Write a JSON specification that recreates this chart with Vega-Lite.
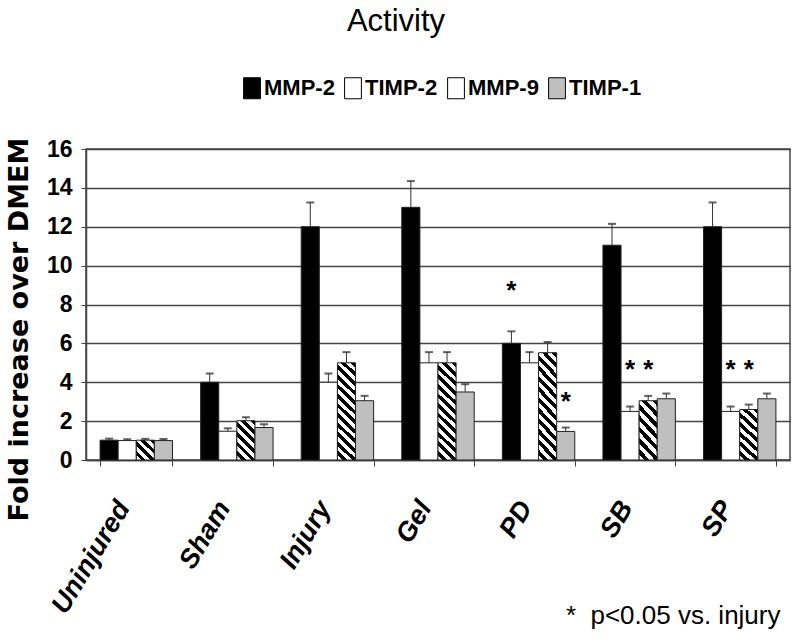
{
  "$schema": "https://vega.github.io/schema/vega-lite/v6.json",
  "width": 704,
  "height": 311,
  "autosize": {"type": "none"},
  "padding": {"left": 86, "top": 149, "right": 10, "bottom": 184},
  "background": "white",
  "title": {"text": "Activity", "font": "Liberation Sans", "fontSize": 31, "fontWeight": "normal", "color": "#000", "anchor": "middle", "offset": 39, "dx": -42},
  "config": {
    "view": {"stroke": "#444", "strokeWidth": 1.5},
    "axis": {"labelColor": "#000", "titleColor": "#000"},
    "axisY": {"tickCount": 10, "labelOverlap": false}
  },
  "datasets": {
    "bars": [
      {"group": "Uninjured", "series": "MMP-2", "value": 1.02, "hi": 1.1},
      {"group": "Uninjured", "series": "TIMP-2", "value": 1.0, "hi": 1.07},
      {"group": "Uninjured", "series": "MMP-9", "value": 1.02, "hi": 1.09},
      {"group": "Uninjured", "series": "TIMP-1", "value": 1.0, "hi": 1.08},
      {"group": "Sham", "series": "MMP-2", "value": 4.0, "hi": 4.45},
      {"group": "Sham", "series": "TIMP-2", "value": 1.48, "hi": 1.63},
      {"group": "Sham", "series": "MMP-9", "value": 2.02, "hi": 2.2},
      {"group": "Sham", "series": "TIMP-1", "value": 1.67, "hi": 1.84},
      {"group": "Injury", "series": "MMP-2", "value": 12.0, "hi": 13.25},
      {"group": "Injury", "series": "TIMP-2", "value": 4.0, "hi": 4.45},
      {"group": "Injury", "series": "MMP-9", "value": 5.0, "hi": 5.55},
      {"group": "Injury", "series": "TIMP-1", "value": 3.05, "hi": 3.3},
      {"group": "Gel", "series": "MMP-2", "value": 13.0, "hi": 14.35},
      {"group": "Gel", "series": "TIMP-2", "value": 5.0, "hi": 5.55},
      {"group": "Gel", "series": "MMP-9", "value": 5.0, "hi": 5.55},
      {"group": "Gel", "series": "TIMP-1", "value": 3.5, "hi": 3.9},
      {"group": "PD", "series": "MMP-2", "value": 6.0, "hi": 6.62},
      {"group": "PD", "series": "TIMP-2", "value": 5.0, "hi": 5.55},
      {"group": "PD", "series": "MMP-9", "value": 5.52, "hi": 6.07},
      {"group": "PD", "series": "TIMP-1", "value": 1.47, "hi": 1.67},
      {"group": "SB", "series": "MMP-2", "value": 11.05, "hi": 12.15},
      {"group": "SB", "series": "TIMP-2", "value": 2.5, "hi": 2.75},
      {"group": "SB", "series": "MMP-9", "value": 3.05, "hi": 3.3},
      {"group": "SB", "series": "TIMP-1", "value": 3.15, "hi": 3.42},
      {"group": "SP", "series": "MMP-2", "value": 12.0, "hi": 13.25},
      {"group": "SP", "series": "TIMP-2", "value": 2.5, "hi": 2.75},
      {"group": "SP", "series": "MMP-9", "value": 2.6, "hi": 2.85},
      {"group": "SP", "series": "TIMP-1", "value": 3.15, "hi": 3.42}
    ],
    "stars": [
      {"group": "PD", "series": "MMP-2", "pos": 9.06},
      {"group": "PD", "series": "TIMP-1", "pos": 3.35},
      {"group": "SB", "series": "TIMP-2", "pos": 4.98},
      {"group": "SB", "series": "MMP-9", "pos": 4.98},
      {"group": "SP", "series": "TIMP-2", "pos": 4.98},
      {"group": "SP", "series": "MMP-9", "pos": 4.98}
    ]
  },
  "encoding": {
    "x": {
      "field": "group", "type": "nominal",
      "sort": ["Uninjured", "Sham", "Injury", "Gel", "PD", "SB", "SP"],
      "scale": {"paddingInner": 0.28, "paddingOuter": 0.14},
      "title": "*\u00a0 p<0.05 vs. injury",
      "axis": {
        "domain": true, "domainColor": "#444", "domainWidth": 1.5,
        "ticks": true, "tickBand": "extent", "tickSize": 6, "tickColor": "#444", "tickWidth": 1,
        "labelAngle": -59, "labelAlign": "right", "labelBaseline": "middle",
        "labelFont": "Liberation Sans", "labelFontSize": 27, "labelFontWeight": "bold", "labelFontStyle": "italic",
        "labelPadding": 37, "labelOffset": -13,
        "titleFont": "Liberation Sans", "titleFontSize": 26, "titleFontWeight": "normal",
        "titleAlign": "right", "titleBaseline": "alphabetic", "titleX": 694, "titleY": 163
      }
    },
    "xOffset": {"field": "series", "type": "nominal", "sort": ["MMP-2", "TIMP-2", "MMP-9", "TIMP-1"]}
  },
  "layer": [
    {
      "data": {"name": "bars"},
      "mark": {"type": "bar", "stroke": "#222", "strokeWidth": 1},
      "encoding": {
        "y": {
          "field": "value", "type": "quantitative",
          "scale": {"domain": [0, 16], "nice": false},
          "title": "Fold increase over DMEM",
          "axis": {
            "values": [0, 2, 4, 6, 8, 10, 12, 14, 16], "tickCount": 10, "labelOverlap": false,
            "grid": true, "gridColor": "#444", "gridWidth": 1.5,
            "domain": true, "domainColor": "#444", "domainWidth": 1.5,
            "tickSize": 5, "tickColor": "#444", "tickWidth": 1,
            "labelFont": "Liberation Sans", "labelFontSize": 23, "labelFontWeight": "bold", "labelPadding": 9,
            "titleFont": "DejaVu Sans", "titleFontSize": 27, "titleFontWeight": "bold",
            "titleAngle": -90, "titleAlign": "center", "titleBaseline": "alphabetic",
            "titleX": -59, "titleY": 180
          }
        },
        "fill": {
          "field": "series", "type": "nominal",
          "scale": {"domain": ["MMP-2", "TIMP-2", "MMP-9", "TIMP-1"], "range": ["#000000", "#ffffff", "#ffffff", "#bfbfbf"]},
          "condition": [
            {"test": "datum.series === 'MMP-9' && datum.value < 1.5", "value": {"gradient": "linear", "x1": 0, "y1": 1, "x2": 0.9448, "y2": -0.0498, "stops": [
              {"offset": 0, "color": "#fff"}, {"offset": 0.125, "color": "#fff"}, {"offset": 0.125, "color": "#000"}, {"offset": 0.25, "color": "#000"},
              {"offset": 0.25, "color": "#fff"}, {"offset": 0.375, "color": "#fff"}, {"offset": 0.375, "color": "#000"}, {"offset": 0.5, "color": "#000"},
              {"offset": 0.5, "color": "#fff"}, {"offset": 0.625, "color": "#fff"}, {"offset": 0.625, "color": "#000"}, {"offset": 0.75, "color": "#000"},
              {"offset": 0.75, "color": "#fff"}, {"offset": 0.875, "color": "#fff"}, {"offset": 0.875, "color": "#000"}, {"offset": 1, "color": "#000"}]}},
            {"test": "datum.series === 'MMP-9' && datum.value < 2.3", "value": {"gradient": "linear", "x1": 0, "y1": 1, "x2": 0.5561, "y2": -0.2049, "stops": [
              {"offset": 0, "color": "#fff"}, {"offset": 0.0833, "color": "#fff"}, {"offset": 0.0833, "color": "#000"}, {"offset": 0.1667, "color": "#000"},
              {"offset": 0.1667, "color": "#fff"}, {"offset": 0.25, "color": "#fff"}, {"offset": 0.25, "color": "#000"}, {"offset": 0.3333, "color": "#000"},
              {"offset": 0.3333, "color": "#fff"}, {"offset": 0.4167, "color": "#fff"}, {"offset": 0.4167, "color": "#000"}, {"offset": 0.5, "color": "#000"},
              {"offset": 0.5, "color": "#fff"}, {"offset": 0.5833, "color": "#fff"}, {"offset": 0.5833, "color": "#000"}, {"offset": 0.6667, "color": "#000"},
              {"offset": 0.6667, "color": "#fff"}, {"offset": 0.75, "color": "#fff"}, {"offset": 0.75, "color": "#000"}, {"offset": 0.8333, "color": "#000"},
              {"offset": 0.8333, "color": "#fff"}, {"offset": 0.9167, "color": "#fff"}, {"offset": 0.9167, "color": "#000"}, {"offset": 1, "color": "#000"}]}},
            {"test": "datum.series === 'MMP-9' && datum.value < 4", "value": {"gradient": "linear", "x1": 0, "y1": 1, "x2": 0.3924, "y2": -0.199, "stops": [
              {"offset": 0, "color": "#fff"}, {"offset": 0.0714, "color": "#fff"}, {"offset": 0.0714, "color": "#000"}, {"offset": 0.1429, "color": "#000"},
              {"offset": 0.1429, "color": "#fff"}, {"offset": 0.2143, "color": "#fff"}, {"offset": 0.2143, "color": "#000"}, {"offset": 0.2857, "color": "#000"},
              {"offset": 0.2857, "color": "#fff"}, {"offset": 0.3571, "color": "#fff"}, {"offset": 0.3571, "color": "#000"}, {"offset": 0.4286, "color": "#000"},
              {"offset": 0.4286, "color": "#fff"}, {"offset": 0.5, "color": "#fff"}, {"offset": 0.5, "color": "#000"}, {"offset": 0.5714, "color": "#000"},
              {"offset": 0.5714, "color": "#fff"}, {"offset": 0.6429, "color": "#fff"}, {"offset": 0.6429, "color": "#000"}, {"offset": 0.7143, "color": "#000"},
              {"offset": 0.7143, "color": "#fff"}, {"offset": 0.7857, "color": "#fff"}, {"offset": 0.7857, "color": "#000"}, {"offset": 0.8571, "color": "#000"},
              {"offset": 0.8571, "color": "#fff"}, {"offset": 0.9286, "color": "#fff"}, {"offset": 0.9286, "color": "#000"}, {"offset": 1, "color": "#000"}]}},
            {"test": "datum.series === 'MMP-9'", "value": {"gradient": "linear", "x1": 0, "y1": 1, "x2": 0.2057, "y2": -0.1428, "stops": [
              {"offset": 0, "color": "#fff"}, {"offset": 0.0417, "color": "#fff"}, {"offset": 0.0417, "color": "#000"}, {"offset": 0.0833, "color": "#000"},
              {"offset": 0.0833, "color": "#fff"}, {"offset": 0.125, "color": "#fff"}, {"offset": 0.125, "color": "#000"}, {"offset": 0.1667, "color": "#000"},
              {"offset": 0.1667, "color": "#fff"}, {"offset": 0.2083, "color": "#fff"}, {"offset": 0.2083, "color": "#000"}, {"offset": 0.25, "color": "#000"},
              {"offset": 0.25, "color": "#fff"}, {"offset": 0.2917, "color": "#fff"}, {"offset": 0.2917, "color": "#000"}, {"offset": 0.3333, "color": "#000"},
              {"offset": 0.3333, "color": "#fff"}, {"offset": 0.375, "color": "#fff"}, {"offset": 0.375, "color": "#000"}, {"offset": 0.4167, "color": "#000"},
              {"offset": 0.4167, "color": "#fff"}, {"offset": 0.4583, "color": "#fff"}, {"offset": 0.4583, "color": "#000"}, {"offset": 0.5, "color": "#000"},
              {"offset": 0.5, "color": "#fff"}, {"offset": 0.5417, "color": "#fff"}, {"offset": 0.5417, "color": "#000"}, {"offset": 0.5833, "color": "#000"},
              {"offset": 0.5833, "color": "#fff"}, {"offset": 0.625, "color": "#fff"}, {"offset": 0.625, "color": "#000"}, {"offset": 0.6667, "color": "#000"},
              {"offset": 0.6667, "color": "#fff"}, {"offset": 0.7083, "color": "#fff"}, {"offset": 0.7083, "color": "#000"}, {"offset": 0.75, "color": "#000"},
              {"offset": 0.75, "color": "#fff"}, {"offset": 0.7917, "color": "#fff"}, {"offset": 0.7917, "color": "#000"}, {"offset": 0.8333, "color": "#000"},
              {"offset": 0.8333, "color": "#fff"}, {"offset": 0.875, "color": "#fff"}, {"offset": 0.875, "color": "#000"}, {"offset": 0.9167, "color": "#000"},
              {"offset": 0.9167, "color": "#fff"}, {"offset": 0.9583, "color": "#fff"}, {"offset": 0.9583, "color": "#000"}, {"offset": 1, "color": "#000"}]}}
          ],
          "legend": {
            "orient": "none", "direction": "horizontal", "legendX": 155, "legendY": -72,
            "title": null, "padding": 0,
            "symbolType": "M-0.8,-1H0.8V1H-0.8Z", "symbolSize": 441,
            "symbolStrokeColor": "#000", "symbolStrokeWidth": 1,
            "labelFont": "Liberation Sans",
            "labelFontSize": 22, "labelFontWeight": "bold", "labelColor": "#000",
            "labelOffset": 1, "columnPadding": 7, "labelLimit": 300
          }
        }
      }
    },
    {
      "data": {"name": "bars"},
      "mark": {"type": "rule", "color": "#333", "strokeWidth": 1},
      "encoding": {
        "y": {"field": "value", "type": "quantitative"},
        "y2": {"field": "hi"}
      }
    },
    {
      "data": {"name": "bars"},
      "mark": {"type": "tick", "color": "#222", "thickness": 2, "size": 8, "orient": "horizontal"},
      "encoding": {
        "y": {"field": "hi", "type": "quantitative"}
      }
    },
    {
      "data": {"name": "stars"},
      "mark": {"type": "text", "text": "*", "font": "Liberation Sans", "fontSize": 26, "fontWeight": "bold", "baseline": "alphabetic", "dy": 15, "color": "#000"},
      "encoding": {
        "y": {"field": "pos", "type": "quantitative"}
      }
    }
  ]
}
